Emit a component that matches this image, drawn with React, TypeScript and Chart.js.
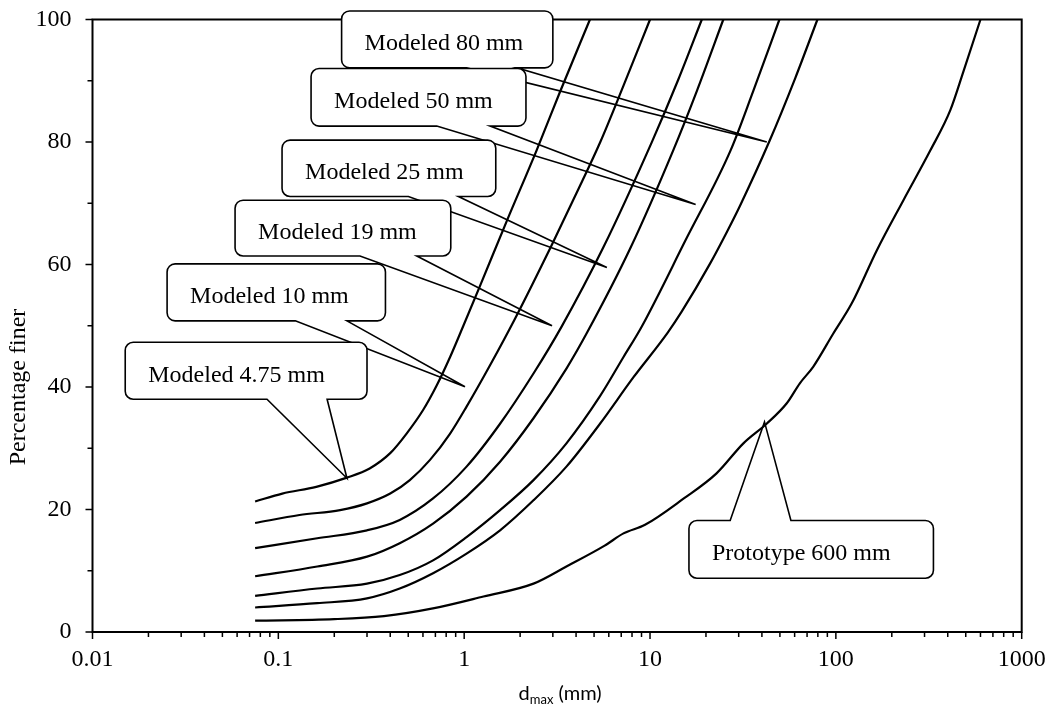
import React, { useEffect, useRef } from 'react';
import { Chart, registerables } from 'chart.js';

Chart.register(...registerables);

// ---------------- data (d in mm, percentage finer) ----------------
const SERIES_NAMES = ['Modeled 4.75 mm', 'Modeled 10 mm', 'Modeled 19 mm', 'Modeled 25 mm', 'Modeled 50 mm', 'Modeled 80 mm', 'Prototype 600 mm'];

const M475_X = [0.075, 0.105, 0.16, 0.234, 0.31, 0.40, 0.49, 0.60, 0.71, 0.84, 0.99, 1.22, 1.69, 2.45, 3.28, 4.75];
const M475_Y = [21.3, 22.6, 23.7, 25.2, 26.7, 29.2, 32.4, 36.2, 40.2, 44.9, 50.0, 56.6, 67.0, 78.6, 88.2, 100];

const M10_X = [0.075, 0.13, 0.215, 0.30, 0.40, 0.51, 0.655, 0.84, 1.03, 1.38, 1.88, 2.96, 4.0, 5.4, 7.2, 10.0];
const M10_Y = [17.8, 19.1, 19.9, 21.0, 22.6, 24.8, 28.1, 32.4, 36.8, 43.6, 51.2, 63.2, 71.5, 80.0, 89.2, 100];

const M19_X = [0.075, 0.162, 0.30, 0.45, 0.68, 1.03, 1.56, 2.36, 3.35, 5.61, 10.2, 14.2, 19.0];
const M19_Y = [13.7, 15.3, 16.6, 18.3, 21.8, 27.0, 34.0, 42.2, 49.9, 62.8, 79.9, 90.2, 100];

const M25_X = [0.075, 0.162, 0.30, 0.45, 0.68, 1.03, 1.56, 2.36, 3.55, 4.57, 7.82, 13.4, 17.9, 24.8];
const M25_Y = [9.1, 10.7, 12.3, 14.5, 17.7, 22.1, 27.8, 34.9, 43.0, 48.8, 62.6, 78.8, 88.4, 100];

const M50_X = [0.075, 0.162, 0.30, 0.45, 0.68, 1.03, 1.56, 2.36, 3.55, 5.38, 7.2, 9.0, 15.5, 27.1, 36, 49.7];
const M50_Y = [5.9, 7.1, 7.9, 9.3, 11.7, 15.5, 19.9, 24.8, 30.8, 38.5, 44.9, 49.8, 63.9, 78.6, 88.4, 100];

const M80_X = [0.075, 0.162, 0.30, 0.45, 0.68, 1.03, 1.56, 2.36, 3.55, 5.38, 8.15, 12.4, 14.8, 21, 26, 30.5, 44.0, 60.4, 79.6];
const M80_Y = [4.0, 4.7, 5.5, 7.1, 9.6, 12.8, 16.6, 21.5, 27.0, 34.0, 41.6, 48.8, 52.3, 60.1, 65.4, 69.6, 80.2, 90.4, 100];

const P600_X = [0.075, 0.20, 0.37, 0.69, 1.27, 2.36, 3.55, 5.7, 7.2, 9.4, 15.2, 22.8, 31.8, 42.4, 54.3, 64, 75.5, 96.7, 122, 166, 231, 322, 413, 488, 600];
const P600_Y = [1.85, 2.1, 2.6, 3.9, 5.8, 7.9, 10.7, 14.1, 16.1, 17.5, 21.8, 25.9, 30.8, 34.0, 37.3, 40.6, 43.3, 48.7, 53.7, 62.3, 70.5, 78.6, 85.2, 91.7, 100];

const SERIES_X = [M475_X, M10_X, M19_X, M25_X, M50_X, M80_X, P600_X];
const SERIES_Y = [M475_Y, M10_Y, M19_Y, M25_Y, M50_Y, M80_Y, P600_Y];

const X_TICKS = [0.01, 0.1, 1, 10, 100, 1000];
const X_TICK_LABELS = ['0.01', '0.1', '1', '10', '100', '1000'];
const Y_TICKS = [0, 20, 40, 60, 80, 100];
const Y_MINOR = [10, 30, 50, 70, 90];

// Callout anchors in data units (box left/right in mm, top/bottom in %, wedge base in mm, tip in mm/%)
const CALLOUT_TEXT = ['Modeled 80 mm', 'Modeled 50 mm', 'Modeled 25 mm', 'Modeled 19 mm', 'Modeled 10 mm', 'Modeled 4.75 mm', 'Prototype 600 mm'];
const CALLOUT_BOX_X0 = [0.219, 0.150, 0.1047, 0.0585, 0.0252, 0.0150, 16.2];
const CALLOUT_BOX_X1 = [3.0, 2.15, 1.479, 0.847, 0.377, 0.300, 335];
const CALLOUT_BOX_Y0 = [101.4, 92.0, 80.3, 70.5, 60.1, 47.3, 18.2];
const CALLOUT_BOX_Y1 = [92.1, 82.6, 71.1, 61.4, 50.8, 38.0, 8.77];
const CALLOUT_BASE0 = [1.03, 0.712, 0.501, 0.275, 0.1234, 0.0869, 27.0];
const CALLOUT_BASE1 = [1.92, 1.378, 0.931, 0.556, 0.234, 0.183, 57.3];
const CALLOUT_TIP_X = [42.5, 17.6, 5.86, 2.97, 1.01, 0.234, 41.3];
const CALLOUT_TIP_Y = [80.0, 69.8, 59.5, 50.0, 40.05, 25.1, 34.3];
const CALLOUT_SIDE = ['bottom', 'bottom', 'bottom', 'bottom', 'bottom', 'bottom', 'top'];

const SERIF = "'Liberation Serif', 'Times New Roman', serif";

function calloutPath(ctx: CanvasRenderingContext2D, l: number, t: number, r: number, b: number,
  bx0: number, bx1: number, tx: number, ty: number, side: string) {
  const rad = 8;
  ctx.beginPath();
  ctx.moveTo(l + rad, t);
  if (side === 'top') {
    ctx.lineTo(bx0, t);
    ctx.lineTo(tx, ty);
    ctx.lineTo(bx1, t);
  }
  ctx.lineTo(r - rad, t);
  ctx.arcTo(r, t, r, t + rad, rad);
  ctx.lineTo(r, b - rad);
  ctx.arcTo(r, b, r - rad, b, rad);
  if (side === 'bottom') {
    ctx.lineTo(bx1, b);
    ctx.lineTo(tx, ty);
    ctx.lineTo(bx0, b);
  }
  ctx.lineTo(l + rad, b);
  ctx.arcTo(l, b, l, b - rad, rad);
  ctx.lineTo(l, t + rad);
  ctx.arcTo(l, t, l + rad, t, rad);
  ctx.closePath();
}

const decorPlugin = {
  id: 'decor',
  beforeDatasetsDraw(chart: any) {
    const { ctx, chartArea: a, scales } = chart;
    const xs = scales.x, ys = scales.y;
    ctx.save();
    ctx.strokeStyle = '#000';
    ctx.lineWidth = 2;
    ctx.strokeRect(a.left, a.top, a.right - a.left, a.bottom - a.top);

    for (let i = 0; i < CALLOUT_TEXT.length; i++) {
      const l = xs.getPixelForValue(CALLOUT_BOX_X0[i]);
      const r = xs.getPixelForValue(CALLOUT_BOX_X1[i]);
      const t = ys.getPixelForValue(CALLOUT_BOX_Y0[i]);
      const b = ys.getPixelForValue(CALLOUT_BOX_Y1[i]);
      const bx0 = xs.getPixelForValue(CALLOUT_BASE0[i]);
      const bx1 = xs.getPixelForValue(CALLOUT_BASE1[i]);
      const tx = xs.getPixelForValue(CALLOUT_TIP_X[i]);
      const ty = ys.getPixelForValue(CALLOUT_TIP_Y[i]);
      calloutPath(ctx, l, t, r, b, bx0, bx1, tx, ty, CALLOUT_SIDE[i]);
      ctx.fillStyle = '#fff';
      ctx.fill();
      ctx.lineWidth = 1.6;
      ctx.lineJoin = 'miter';
      ctx.strokeStyle = '#000';
      ctx.stroke();
      ctx.fillStyle = '#000';
      ctx.font = `24px ${SERIF}`;
      ctx.textAlign = 'left';
      ctx.textBaseline = 'alphabetic';
      ctx.fillText(CALLOUT_TEXT[i], l + 23, (t + b) / 2 + 11);
    }
    ctx.restore();
  },
  afterDraw(chart: any) {
    const { ctx, chartArea: a, scales } = chart;
    const xs = scales.x, ys = scales.y;
    ctx.save();
    ctx.strokeStyle = '#000';
    ctx.lineWidth = 1.5;
    ctx.beginPath();
    for (let k = 0; k < X_TICKS.length; k++) {
      const px = xs.getPixelForValue(X_TICKS[k]);
      ctx.moveTo(px, a.bottom);
      ctx.lineTo(px, a.bottom + 7);
      if (k < X_TICKS.length - 1) {
        for (let m = 2; m <= 9; m++) {
          const p2 = xs.getPixelForValue(X_TICKS[k] * m);
          ctx.moveTo(p2, a.bottom);
          ctx.lineTo(p2, a.bottom + 5);
        }
      }
    }
    for (const v of Y_TICKS) {
      const py = ys.getPixelForValue(v);
      ctx.moveTo(a.left, py);
      ctx.lineTo(a.left - 7, py);
    }
    for (const v of Y_MINOR) {
      const py = ys.getPixelForValue(v);
      ctx.moveTo(a.left, py);
      ctx.lineTo(a.left - 5, py);
    }
    ctx.stroke();

    // y title
    ctx.fillStyle = '#000';
    ctx.save();
    ctx.translate(19, a.top + (a.bottom - a.top) * 0.6);
    ctx.rotate(-Math.PI / 2);
    ctx.font = `24px ${SERIF}`;
    ctx.textAlign = 'center';
    ctx.textBaseline = 'middle';
    ctx.fillText('Percentage finer', 0, 0);
    ctx.restore();

    // x title: d_max (mm)
    const big = "20px Lato, 'Liberation Sans', sans-serif";
    const small = "13px Lato, 'Liberation Sans', sans-serif";
    ctx.textBaseline = 'alphabetic';
    ctx.textAlign = 'left';
    ctx.font = big;
    const w1 = ctx.measureText('d').width;
    const w3 = ctx.measureText(' (mm)').width;
    ctx.font = small;
    const w2 = ctx.measureText('max').width;
    const total = w1 + w2 + w3;
    const cx = (a.left + a.right) / 2 + 3;
    let x0 = cx - total / 2;
    const base = a.bottom + 68;
    ctx.font = big;
    ctx.fillText('d', x0, base);
    x0 += w1;
    ctx.font = small;
    ctx.fillText('max', x0, base + 4);
    x0 += w2;
    ctx.font = big;
    ctx.fillText(' (mm)', x0, base);
    ctx.restore();
  },
};

export default function App() {
  const ref = useRef<HTMLCanvasElement | null>(null);
  useEffect(() => {
    if (!ref.current) return;
    const datasets = SERIES_NAMES.map((name, i) => ({
      label: name,
      data: SERIES_X[i].map((x, j) => ({ x, y: SERIES_Y[i][j] })),
      borderColor: '#000',
      borderWidth: 2.2,
      pointRadius: 0,
      fill: false,
      cubicInterpolationMode: 'monotone' as const,
    }));
    const chart = new Chart(ref.current, {
      type: 'line',
      data: { datasets },
      options: {
        responsive: false,
        animation: false,
        devicePixelRatio: 1,
        layout: { padding: { left: 0, right: 36.3, top: 19.5, bottom: 0 } },
        plugins: { legend: { display: false }, tooltip: { enabled: false } },
        scales: {
          x: {
            type: 'logarithmic',
            min: 0.01,
            max: 1000,
            afterBuildTicks: (s: any) => { s.ticks = X_TICKS.map((v) => ({ value: v })); },
            afterFit: (s: any) => { s.height = 81; s.paddingLeft = 0; s.paddingRight = 0; },
            grid: { display: false, drawTicks: false },
            border: { display: false },
            ticks: {
              autoSkip: false,
              maxRotation: 0,
              padding: 13,
              color: '#000',
              font: { family: SERIF, size: 24 },
              callback: (_v: any, i: number) => X_TICK_LABELS[i],
            },
          },
          y: {
            type: 'linear',
            min: 0,
            max: 100,
            afterBuildTicks: (s: any) => { s.ticks = Y_TICKS.map((v) => ({ value: v })); },
            afterFit: (s: any) => { s.width = 92.5; s.paddingTop = 0; s.paddingBottom = 0; },
            grid: { display: false, drawTicks: false },
            border: { display: false },
            ticks: {
              padding: 21,
              color: '#000',
              font: { family: SERIF, size: 24 },
            },
          },
        },
      },
      plugins: [decorPlugin],
    });
    return () => chart.destroy();
  }, []);
  return (
    <div style={{ position: 'absolute', left: 0, top: 0, width: 1058, height: 713, background: '#fff' }}>
      <canvas ref={ref} width={1058} height={713} />
    </div>
  );
}
